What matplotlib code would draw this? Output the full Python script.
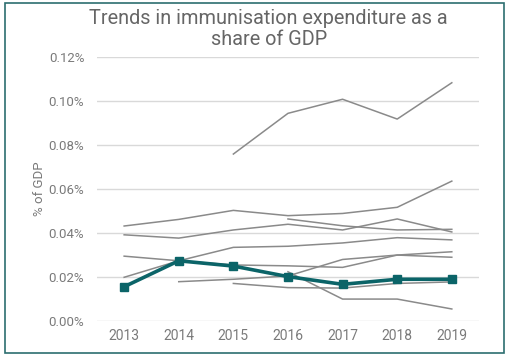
import numpy as np
import matplotlib
matplotlib.use("Agg")
import matplotlib.pyplot as plt
from matplotlib.patches import Rectangle

nan = np.nan
years = [2013, 2014, 2015, 2016, 2017, 2018, 2019]

# other countries (grey), % of GDP
others = [
    [nan, nan, 0.0759, 0.0944, 0.1008, 0.0918, 0.1083],
    [0.0432, 0.0462, 0.0503, 0.0479, 0.0489, 0.0517, 0.0636],
    [0.0392, 0.0377, 0.0414, 0.0440, 0.0414, 0.0464, 0.0405],
    [nan, nan, nan, 0.0464, 0.0433, 0.0414, 0.0417],
    [0.0199, 0.0274, 0.0335, 0.0340, 0.0355, 0.0379, 0.0369],
    [0.0295, 0.0274, 0.0255, 0.0251, 0.0244, 0.0300, 0.0290],
    [nan, 0.0179, 0.0190, 0.0205, 0.0280, 0.0300, 0.0315],
    [nan, nan, 0.0171, 0.0152, 0.0150, 0.0171, 0.0178],
    [nan, nan, nan, 0.0224, 0.0100, 0.0100, 0.0055],
]
# highlighted country
highlight = [0.0156, 0.0274, 0.0250, 0.0202, 0.0167, 0.0190, 0.0190]

yticks = [0.00, 0.02, 0.04, 0.06, 0.08, 0.10, 0.12]

plt.rcParams['font.family'] = ['Roboto', 'DejaVu Sans']

fig = plt.figure(figsize=(5.07, 3.54), dpi=100)
ax = fig.add_axes([0.191, 0.093, 0.754, 0.746])

for s in others:
    ax.plot(years, s, color='#8a8a8a', lw=1.1, zorder=2)
ax.plot(years, highlight, color='#0b6468', lw=2.6, marker='s', markersize=6, zorder=3)

ax.set_xlim(2012.5, 2019.5)
ax.set_ylim(0, 0.12)
ax.set_yticks(yticks)
ax.set_yticklabels(['%.2f%%' % t for t in yticks])
ax.set_xticks(years)
ax.grid(axis='y', color='#d9d9d9', lw=1)
ax.set_axisbelow(True)
for sp in ax.spines.values():
    sp.set_visible(False)
ax.tick_params(length=0, colors='#7a7a7a', labelsize=9.5)
ax.tick_params(axis='y', pad=9)
ax.tick_params(axis='x', labelsize=10, pad=6)
ax.set_ylabel('% of GDP', color='#7a7a7a', fontsize=9.5, labelpad=2)

fig.suptitle('Trends in immunisation expenditure as a\nshare of GDP', y=0.974,
             x=0.53, fontsize=14.3, color='#666666', linespacing=1.1)

fig.patches.append(Rectangle((0.009, 0.004), 0.986, 0.988, transform=fig.transFigure,
                             fill=False, edgecolor='#2c6e70', lw=1.2))

fig.savefig('out.png', dpi=100)
